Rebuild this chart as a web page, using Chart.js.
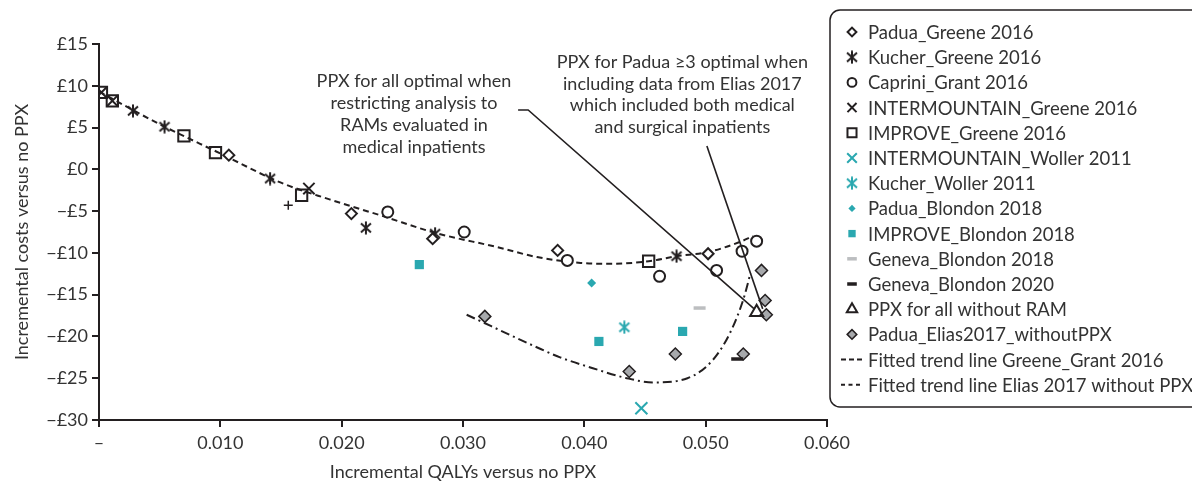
<!DOCTYPE html>
<html>
<head>
<meta charset="utf-8">
<script src="https://cdn.jsdelivr.net/npm/chart.js@4/dist/chart.umd.min.js"></script>
<style>
  html, body { margin: 0; padding: 0; background: #fff; overflow: hidden; }
  #wrap { width: 1192px; height: 484px; overflow: hidden; }
</style>
</head>
<body>
<div id="wrap"><canvas id="chart" width="1192" height="484"></canvas></div>
<script>
// Incremental cost vs QALY scatter - RAM strategies

// Series values (x = incremental QALYs, y = incremental costs in £)
const paduaGreeneX = [0.0107, 0.0208, 0.0275, 0.0378, 0.0502];
const paduaGreeneY = [1.7, -5.3, -8.3, -9.7, -10.1];

const kucherGreeneX = [0.0028, 0.0054, 0.0141, 0.0220, 0.0277, 0.0476];
const kucherGreeneY = [7.0, 5.1, -1.1, -7.0, -7.7, -10.4];

const capriniGrantX = [0.0238, 0.0301, 0.0386, 0.0462, 0.0509, 0.0530, 0.0542];
const capriniGrantY = [-5.1, -7.5, -10.9, -12.8, -12.1, -9.8, -8.6];

const interGreeneX = [0.0002, 0.0011, 0.0173];
const interGreeneY = [9.2, 8.2, -2.3];

const improveGreeneX = [0.0002, 0.0011, 0.0070, 0.0096, 0.0167, 0.0453];
const improveGreeneY = [9.2, 8.2, 4.0, 2.0, -3.1, -11.0];

const interWollerX = [0.0447];
const interWollerY = [-28.6];

const kucherWollerX = [0.0433];
const kucherWollerY = [-18.9];

const paduaBlondonX = [0.0406];
const paduaBlondonY = [-13.6];

const improveBlondonX = [0.0264, 0.0412, 0.0481];
const improveBlondonY = [-11.4, -20.6, -19.4];

const geneva2018X = [0.0495];
const geneva2018Y = [-16.6];

const geneva2020X = [0.0526];
const geneva2020Y = [-22.7];

const ppxAllX = [0.0542];
const ppxAllY = [-17.1];

const paduaEliasX = [0.0318, 0.0437, 0.0475, 0.0531, 0.0546, 0.0549, 0.0550];
const paduaEliasY = [-17.6, -24.2, -22.1, -22.1, -12.1, -15.7, -17.4];

const extraPlusX = [0.0156];
const extraPlusY = [-4.3];

// Fitted trend lines
const trendGreeneX = [0, 0.005, 0.010, 0.015, 0.019, 0.0234, 0.0277, 0.0328, 0.0361, 0.0397, 0.0421, 0.0453, 0.0476, 0.0502, 0.0528, 0.0539];
const trendGreeneY = [9.3, 5.4, 1.9, -1.6, -3.6, -5.6, -7.6, -9.3, -10.5, -11.2, -11.3, -11.0, -10.4, -9.9, -8.7, -8.0];

const trendEliasX = [0.0303, 0.0364, 0.0380, 0.0407, 0.0435, 0.0457, 0.0485, 0.0506, 0.0520, 0.0531, 0.0537];
const trendEliasY = [-17.4, -21.5, -22.5, -23.8, -25.0, -25.5, -25.0, -22.8, -19.6, -15.6, -12.4];

// Axis ticks
const xTickValues = [0, 0.01, 0.02, 0.03, 0.04, 0.05, 0.06];
const yTickValues = [15, 10, 5, 0, -5, -10, -15, -20, -25, -30];

// Callout texts
const calloutLeftText = ['PPX for all optimal when', 'restricting analysis to', 'RAMs evaluated in', 'medical inpatients'];
const calloutRightText = ['PPX for Padua \u22653 optimal when', 'including data from Elias 2017', 'which included both medical', 'and surgical inpatients'];

const INK = '#231f20';
const TEAL = '#2aa8b0';
const GREY = '#a7a9ac';
const LIGHT_GREY = '#bcbec0';
const TEXT = '#333333';
const FONT = "Lato, 'Open Sans', sans-serif";

const pts = (xs, ys) => xs.map((x, i) => ({ x: x, y: ys[i] }));

// Six-armed asterisk marker (X with vertical bar)
function makeAsterisk(color) {
    const c = document.createElement('canvas');
    c.width = 14; c.height = 14;
    const g = c.getContext('2d');
    g.strokeStyle = color;
    g.lineWidth = 2;
    g.beginPath();
    g.moveTo(2, 2.5); g.lineTo(12, 11.5);
    g.moveTo(12, 2.5); g.lineTo(2, 11.5);
    g.moveTo(7, 0.5); g.lineTo(7, 13.5);
    g.stroke();
    return c;
}

const asteriskBlack = makeAsterisk(INK);
const asteriskTeal = makeAsterisk(TEAL);

function markerSet(label, xs, ys, style, radius, fill, stroke, width, extra) {
    return Object.assign({
        label: label,
        data: pts(xs, ys),
        pointStyle: style,
        pointRadius: radius,
        pointBackgroundColor: fill,
        pointBorderColor: stroke,
        pointBorderWidth: width,
        showLine: false
    }, extra || {});
}

const datasets = [
    markerSet('Padua_Greene 2016', paduaGreeneX, paduaGreeneY, 'rectRot', 5.5, '#fff', INK, 2),
    markerSet('Kucher_Greene 2016', kucherGreeneX, kucherGreeneY, asteriskBlack, 7, INK, INK, 0),
    markerSet('Caprini_Grant 2016', capriniGrantX, capriniGrantY, 'circle', 5.5, '#fff', INK, 2),
    markerSet('INTERMOUNTAIN_Greene 2016', interGreeneX, interGreeneY, 'crossRot', 8, INK, INK, 2),
    markerSet('IMPROVE_Greene 2016', improveGreeneX, improveGreeneY, 'rect', 8, 'rgba(255,255,255,0)', INK, 2),
    markerSet('INTERMOUNTAIN_Woller 2011', interWollerX, interWollerY, 'crossRot', 8.5, TEAL, TEAL, 2),
    markerSet('Kucher_Woller 2011', kucherWollerX, kucherWollerY, asteriskTeal, 7, TEAL, TEAL, 0),
    markerSet('Padua_Blondon 2018', paduaBlondonX, paduaBlondonY, 'rectRot', 4.5, TEAL, TEAL, 0),
    markerSet('IMPROVE_Blondon 2018', improveBlondonX, improveBlondonY, 'rect', 6.5, TEAL, TEAL, 0),
    markerSet('Geneva_Blondon 2018', geneva2018X, geneva2018Y, 'line', 6, LIGHT_GREY, LIGHT_GREY, 3.5),
    markerSet('Geneva_Blondon 2020', geneva2020X, geneva2020Y, 'line', 6, INK, INK, 3.5),
    markerSet('PPX for all without RAM', ppxAllX, ppxAllY, 'triangle', 7.5, 'rgba(255,255,255,0)', INK, 2),
    markerSet('Padua_Elias2017_withoutPPX', paduaEliasX, paduaEliasY, 'rectRot', 6, GREY, INK, 1.5),
    markerSet('', extraPlusX, extraPlusY, 'cross', 4.5, INK, INK, 1.5, { hideInLegend: true }),
    {
        label: 'Fitted trend line Greene_Grant 2016',
        data: pts(trendGreeneX, trendGreeneY),
        showLine: true,
        borderColor: INK,
        borderWidth: 2,
        borderDash: [6, 4],
        pointRadius: 0,
        cubicInterpolationMode: 'monotone',
        legendDash: [5, 3]
    },
    {
        label: 'Fitted trend line Elias 2017 without PPX',
        data: pts(trendEliasX, trendEliasY),
        showLine: true,
        borderColor: INK,
        borderWidth: 2,
        borderDash: [9, 4, 2, 4],
        pointRadius: 0,
        cubicInterpolationMode: 'monotone',
        legendDash: [4, 3.5]
    }
];

// Callouts + boxed legend drawn on top of the chart
const overlayPlugin = {
    id: 'overlay',
    afterDraw(chart) {
        const ctx = chart.ctx;
        const xs = chart.scales.x;
        const ys = chart.scales.y;
        const px = (v) => xs.getPixelForValue(v);
        const py = (v) => ys.getPixelForValue(v);
        const W = chart.width;

        ctx.save();

        // leader lines
        const leaders = [
            [[0.03454, 7.1], [0.03537, 7.1], [0.0540, -16.7]],
            [[0.0501, 2.8], [0.0547, -16.7]]
        ];
        ctx.strokeStyle = INK;
        ctx.lineWidth = 1.6;
        leaders.forEach(line => {
            ctx.beginPath();
            line.forEach((p, i) => {
                if (i === 0) ctx.moveTo(px(p[0]), py(p[1]));
                else ctx.lineTo(px(p[0]), py(p[1]));
            });
            ctx.stroke();
        });

        // callout texts
        ctx.fillStyle = TEXT;
        ctx.font = '18px ' + FONT;
        ctx.textAlign = 'center';
        ctx.textBaseline = 'middle';
        calloutLeftText.forEach((t, i) => ctx.fillText(t, px(0.02596), py(10.55) + i * 22));
        calloutRightText.forEach((t, i) => ctx.fillText(t, px(0.04808), py(12.8) + i * 21.5));

        // legend box, open on the right: it runs off the picture edge
        const lx = 830, ly = 10, lh = 397, r = 10;
        ctx.fillStyle = '#fff';
        ctx.fillRect(lx + 2, ly + 1, W - lx, lh - 2);
        ctx.strokeStyle = INK;
        ctx.lineWidth = 1.5;
        ctx.beginPath();
        ctx.moveTo(W + 20, ly);
        ctx.lineTo(lx + r, ly);
        ctx.arcTo(lx, ly, lx, ly + r, r);
        ctx.lineTo(lx, ly + lh - r);
        ctx.arcTo(lx, ly + lh, lx + r, ly + lh, r);
        ctx.lineTo(W + 20, ly + lh);
        ctx.stroke();

        const items = chart.data.datasets.filter(d => !d.hideInLegend);
        ctx.textAlign = 'left';
        ctx.font = '18.5px ' + FONT;
        items.forEach((d, i) => {
            const y = 32 + i * 25.2;
            const mx = 852;
            ctx.save();
            if (d.showLine) {
                ctx.strokeStyle = d.borderColor;
                ctx.lineWidth = 2;
                ctx.setLineDash(d.legendDash);
                ctx.beginPath();
                ctx.moveTo(841, y);
                ctx.lineTo(863, y);
                ctx.stroke();
            } else {
                ctx.fillStyle = d.pointBackgroundColor;
                ctx.strokeStyle = d.pointBorderColor;
                ctx.lineWidth = d.pointBorderWidth;
                Chart.helpers.drawPoint(ctx, {
                    pointStyle: d.pointStyle,
                    radius: d.pointRadius * 0.8,
                    borderWidth: d.pointBorderWidth,
                    rotation: 0
                }, mx, y);
            }
            ctx.restore();
            ctx.fillStyle = TEXT;
            ctx.fillText(d.label, 868, y + 1);
        });

        ctx.restore();
    }
};

function yTickLabel(v) {
    if (v < 0) return '\u2212\u00a3' + Math.abs(v);
    return '\u00a3' + v;
}

function xTickLabel(v) {
    if (Math.abs(v) < 1e-9) return '\u2013';
    return v.toFixed(3);
}

new Chart(document.getElementById('chart'), {
    type: 'scatter',
    data: { datasets: datasets },
    options: {
        responsive: false,
        animation: false,
        layout: { padding: { top: 44, right: 365, bottom: 0, left: 0 } },
        plugins: {
            legend: { display: false },
            tooltip: { enabled: false }
        },
        scales: {
            x: {
                type: 'linear',
                min: 0,
                max: 0.06,
                afterBuildTicks: (axis) => { axis.ticks = xTickValues.map(v => ({ value: v })); },
                afterFit: (axis) => { axis.height = 64; },
                ticks: {
                    callback: xTickLabel,
                    color: TEXT,
                    font: { family: FONT, size: 18 },
                    padding: 5,
                    maxRotation: 0
                },
                grid: { drawOnChartArea: false, drawTicks: true, tickLength: 7, color: INK, lineWidth: 2 },
                border: { display: true, color: INK, width: 2 },
                title: {
                    display: true,
                    text: 'Incremental QALYs versus no PPX',
                    color: TEXT,
                    font: { family: FONT, size: 18 },
                    padding: { top: 0, bottom: 1 }
                }
            },
            y: {
                type: 'linear',
                min: -30,
                max: 15,
                afterBuildTicks: (axis) => { axis.ticks = yTickValues.slice().reverse().map(v => ({ value: v })); },
                afterFit: (axis) => { axis.width = 99; },
                ticks: {
                    callback: yTickLabel,
                    color: TEXT,
                    font: { family: FONT, size: 18 },
                    padding: 4
                },
                grid: { drawOnChartArea: false, drawTicks: true, tickLength: 7, color: INK, lineWidth: 2 },
                border: { display: true, color: INK, width: 2 },
                title: {
                    display: true,
                    text: 'Incremental costs versus no PPX',
                    color: TEXT,
                    font: { family: FONT, size: 18 },
                    padding: { top: 11, bottom: 0 }
                }
            }
        }
    },
    plugins: [overlayPlugin]
});
</script>
</body>
</html>
